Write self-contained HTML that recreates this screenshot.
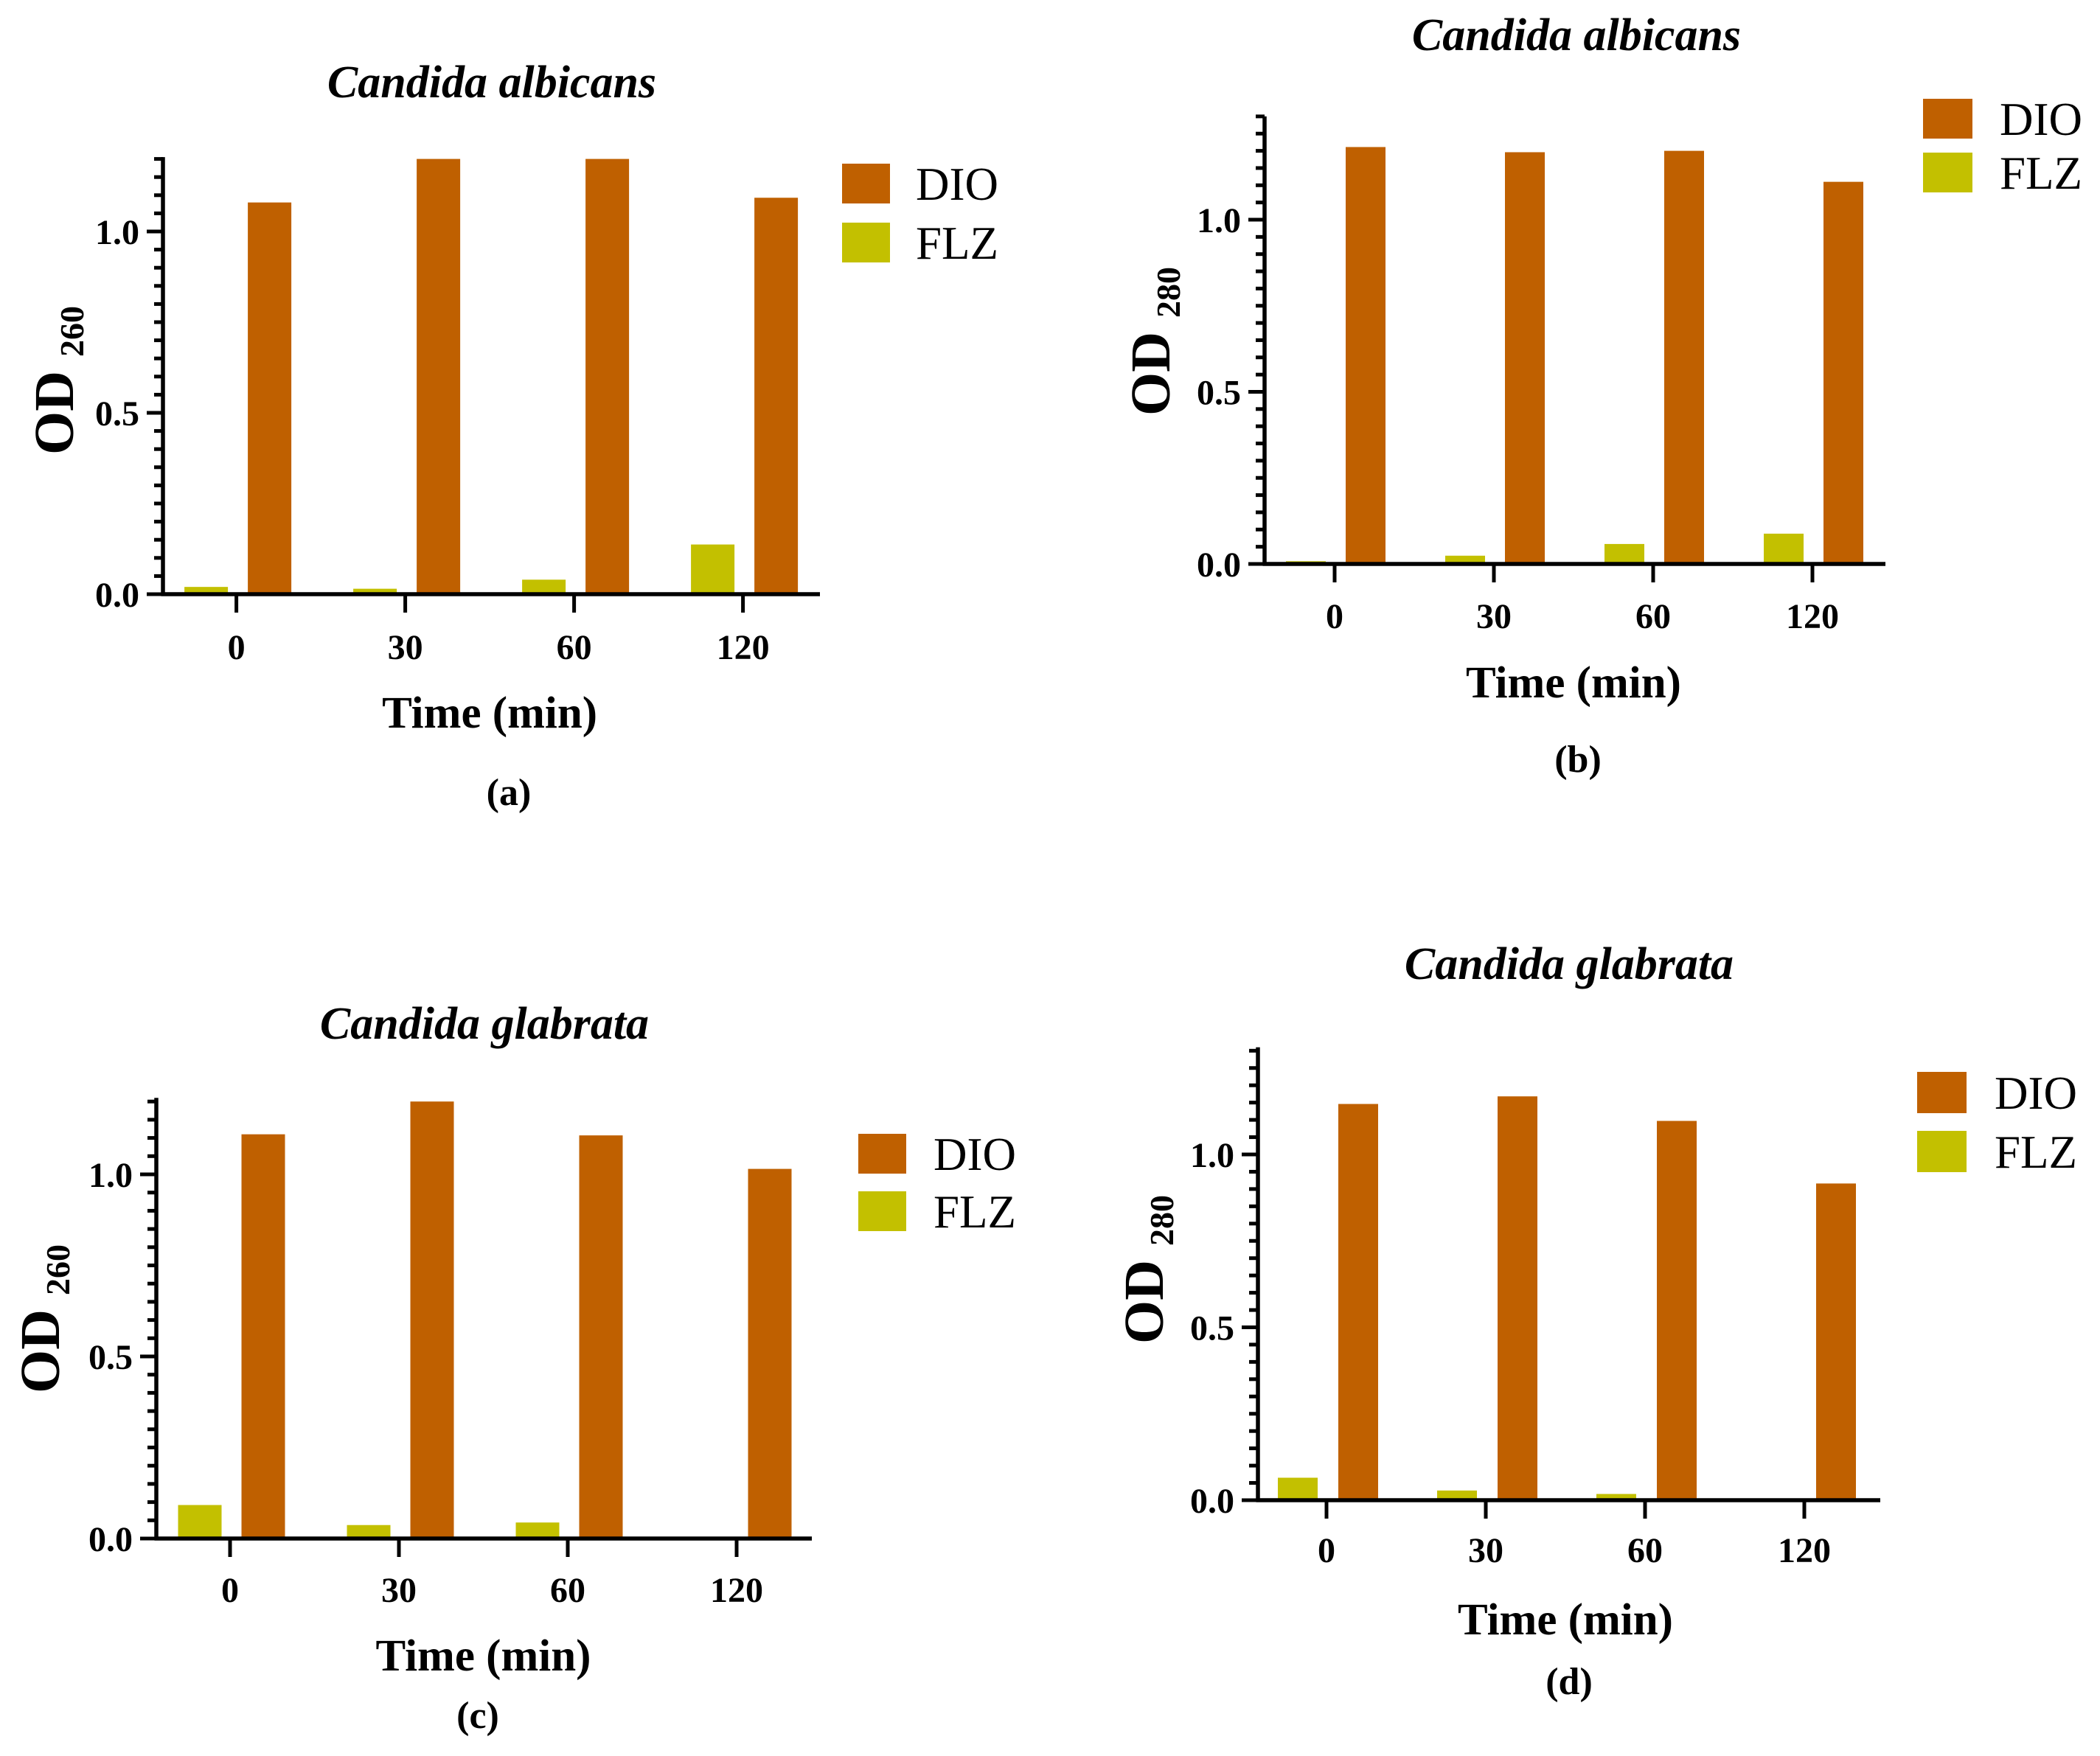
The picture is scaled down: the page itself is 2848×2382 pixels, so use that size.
<!DOCTYPE html>
<html><head><meta charset="utf-8">
<style>
html,body{margin:0;padding:0;background:#fff;}
svg{display:block;}
text{font-family:"Liberation Serif",serif;fill:#000;}
</style></head>
<body>
<svg id="fig" width="2848" height="2382" viewBox="0 0 2848 2382" xmlns="http://www.w3.org/2000/svg"></svg>
<script>
const categories = ["0","30","60","120"];
const yTickLabels = ["0.0","0.5","1.0"];
const dioA = [1.08, 1.20, 1.20, 1.093];
const flzA = [0.02, 0.015, 0.04, 0.137];
const dioB = [1.211, 1.196, 1.20, 1.11];
const flzB = [0.008, 0.024, 0.058, 0.088];
const dioC = [1.11, 1.20, 1.107, 1.015];
const flzC = [0.092, 0.037, 0.044, 0];
const dioD = [1.146, 1.168, 1.097, 0.916];
const flzD = [0.065, 0.028, 0.018, 0];

const NS = "http://www.w3.org/2000/svg";
const svg = document.getElementById('fig');
function mk(tag, attrs, parent, txt){
  const e = document.createElementNS(NS, tag);
  for (const k in attrs) e.setAttribute(k, attrs[k]);
  if (txt !== undefined) e.textContent = txt;
  (parent||svg).appendChild(e);
  return e;
}
const DIO_COL = "#bf6000", FLZ_COL = "#c3c000";

const panels = [
  {id:'a', title:'Candida albicans', sub:'260', dio:dioA, flz:flzA,
   ax:221, y0:806, unit:492, ymax:1.205, x0:320.6, dx:229, xend:1112, bw:59, offF:-41, offD:45,
   titleY:132, titleX:667, tickLabY:894, timeY:987, capY:1092, capX:690, odX:73, odY:516,
   legX:1142, legDioY:222, legFlzY:302, legW:65, legH:54, legTX:1242},
  {id:'b', title:'Candida albicans', sub:'280', dio:dioB, flz:flzB,
   ax:1715, y0:765, unit:467, ymax:1.30, x0:1810, dx:216, xend:2557, bw:54, offF:-39, offD:42,
   titleY:68, titleX:2138, tickLabY:852, timeY:946, capY:1047, capX:2140, odX:1560, odY:463,
   legX:2608, legDioY:134, legFlzY:207, legW:67, legH:54, legTX:2712},
  {id:'c', title:'Candida glabrata', sub:'260', dio:dioC, flz:flzC,
   ax:212, y0:2087, unit:494, ymax:1.21, x0:312, dx:229, xend:1101, bw:59, offF:-41, offD:45,
   titleY:1409, titleX:657, tickLabY:2173, timeY:2266, capY:2344, capX:648, odX:54, odY:1789,
   legX:1164, legDioY:1538, legFlzY:1616, legW:65, legH:54, legTX:1266},
  {id:'d', title:'Candida glabrata', sub:'280', dio:dioD, flz:flzD,
   ax:1706, y0:2035, unit:469, ymax:1.31, x0:1799, dx:216, xend:2550, bw:54, offF:-39, offD:43,
   titleY:1328, titleX:2128, tickLabY:2119, timeY:2217, capY:2298, capX:2128, odX:1551, odY:1722,
   legX:2600, legDioY:1454, legFlzY:1534, legW:67, legH:56, legTX:2705}
];

panels.forEach(p => {
  const g = mk('g', {});
  
  
  const yS = v => p.y0 - v * p.unit;
  const xS = i => p.x0 + i * p.dx;

  const t = mk('text', {x:p.titleX, y:p.titleY, 'text-anchor':'middle', 'font-size':62, 'font-style':'italic', 'font-weight':'bold'}, g, p.title);
  
  

  categories.forEach((c, i) => {
    const fv = p.flz[i], dv = p.dio[i];
    const fb = mk('rect', {x:xS(i)+p.offF-p.bw/2, y:yS(fv), width:p.bw, height:Math.max(0, p.y0-yS(fv)), fill:FLZ_COL}, g);
    
    
    const db = mk('rect', {x:xS(i)+p.offD-p.bw/2, y:yS(dv), width:p.bw, height:Math.max(0, p.y0-yS(dv)), fill:DIO_COL}, g);
    
    
  });

  const yTop = yS(p.ymax);
  const ya = mk('line', {x1:p.ax, y1:yTop, x2:p.ax, y2:p.y0+2.5, stroke:'#000', 'stroke-width':5.5}, g);
  
  
  for (let k = 0; k * 0.05 <= p.ymax + 1e-9; k++) {
    const v = k * 0.05, y = yS(v);
    const major = (k % 10 === 0);
    mk('line', {x1:p.ax - (major ? 22 : 12), y1:y, x2:p.ax, y2:y, stroke:'#000', 'stroke-width':5}, g);
  }
  yTickLabels.forEach(l => {
    const tl = mk('text', {x:p.ax - 32, y:yS(parseFloat(l)) + 17, 'text-anchor':'end', 'font-size':48, 'font-weight':'bold'}, g, l);
    
    
  });

  const xa = mk('line', {x1:p.ax - 2.5, y1:p.y0, x2:p.xend, y2:p.y0, stroke:'#000', 'stroke-width':5.5}, g);
  
  
  categories.forEach((c, i) => {
    mk('line', {x1:xS(i), y1:p.y0, x2:xS(i), y2:p.y0 + 25, stroke:'#000', 'stroke-width':5}, g);
    const xl = mk('text', {x:xS(i), y:p.tickLabY, 'text-anchor':'middle', 'font-size':48, 'font-weight':'bold'}, g, c);
    
    
  });

  const xt = mk('text', {x:(p.x0 + xS(3))/2, y:p.timeY, 'text-anchor':'middle', 'font-size':61, 'font-weight':'bold'}, g, 'Time (min)');
  
  

  const yt = mk('text', {x:0, y:0, 'text-anchor':'middle', 'font-size':76, 'font-weight':'bold', transform:`translate(${p.odX + 26},${p.odY}) rotate(-90)`}, g);
  
  
  mk('tspan', {}, yt, 'OD ');
  mk('tspan', {'font-size':46, dy:14}, yt, p.sub);

  const cap = mk('text', {x:p.capX, y:p.capY, 'text-anchor':'middle', 'font-size':52, 'font-weight':'bold'}, g, '(' + p.id + ')');
  
  

  const ld = mk('rect', {x:p.legX, y:p.legDioY, width:p.legW, height:p.legH, fill:DIO_COL}, g);
  
  
  const lf = mk('rect', {x:p.legX, y:p.legFlzY, width:p.legW, height:p.legH, fill:FLZ_COL}, g);
  
  
  const ltd = mk('text', {x:p.legTX, y:p.legDioY + p.legH/2 + 22, 'font-size':63}, g, 'DIO');
  
  
  const ltf = mk('text', {x:p.legTX, y:p.legFlzY + p.legH/2 + 22, 'font-size':63}, g, 'FLZ');
  
  
});
</script>
</body></html>
